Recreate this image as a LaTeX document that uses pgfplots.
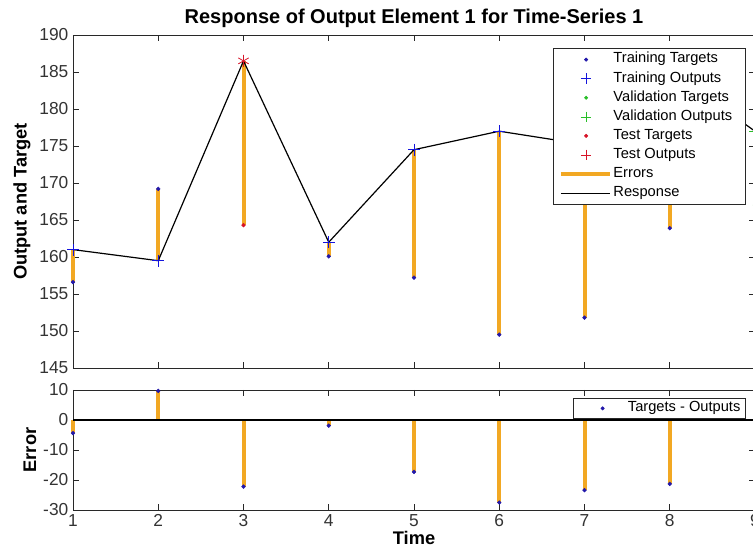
\documentclass[border=0pt]{standalone}
\usepackage{fontspec}
\setmainfont{Liberation Sans}
\usepackage{pgfplots}
\pgfplotsset{compat=1.18}
\definecolor{errc}{RGB}{242,168,35}
\definecolor{tgt}{RGB}{35,25,170}
\definecolor{outb}{RGB}{20,20,220}
\definecolor{valg}{RGB}{40,190,40}
\definecolor{testr}{RGB}{215,20,40}
\definecolor{axc}{RGB}{40,40,40}
\pgfplotsset{
  mline/.style={legend image code/.code={\draw[##1] (0pt,0pt) -- (37pt,0pt);}},
  mmark/.style={legend image code/.code={\path[draw=none,fill=none] (0pt,0pt) -- (37pt,0pt);\draw[##1] plot[only marks] coordinates {(19pt,0pt)};}},
  mybase/.style={scale only axis, width=511.5pt, xmin=1, xmax=9, xtick={1,...,9},
    tick align=inside, major tick length=4.5pt,
    axis line style={axc, line width=0.6pt},
    every tick/.style={axc, line width=0.5pt},
    tick label style={font=\fontsize{13}{15}\selectfont, text=black!80},
    /pgf/number format/assume math mode=true, clip=false,
    label style={font=\bfseries\fontsize{13.7}{16}\selectfont},
    legend cell align=left,
  },
}
\begin{document}
\begin{tikzpicture}
\begin{axis}[mybase, at={(54.75pt,134.25pt)}, anchor=south west, height=249.75pt,
  ymin=145, ymax=190, ytick={145,150,...,190}, xticklabels={},
  title={Response of Output Element 1 for Time-Series 1},
  every axis title shift=0pt,
  title style={font=\bfseries\fontsize{15}{18}\selectfont, at={(axis description cs:0.5,1.051)}, anchor=center, yshift=0pt},
  ylabel={Output and Target},
  ylabel style={at={(axis description cs:-0.0748,0.5)}, anchor=center},
  legend style={at={(axis description cs:0.704,0.961)}, anchor=north west,
    font=\fontsize{11}{13}\selectfont, draw=axc, line width=0.5pt, fill=white,
    inner xsep=4pt, inner ysep=2.5pt, row sep=2.3pt,
    nodes={inner sep=1pt, text height=0.75em, text depth=0.25em}},
]
% errors (target to output)
\addplot[errc, line width=3pt, unbounded coords=jump, forget plot] coordinates {
 (1,156.6) (1,161.0) (1,nan)
 (2,169.2) (2,159.5) (2,nan)
 (3,164.3) (3,186.5) (3,nan)
 (4,160.1) (4,162.0) (4,nan)
 (5,157.2) (5,174.5) (5,nan)
 (6,149.5) (6,177.0) (6,nan)
 (7,151.8) (7,175.2) (7,nan)
 (8,163.9) (8,185.2) (8,nan)
 (9,167.0) (9,177.0)
};
% response
\addplot[black, line width=0.9pt, forget plot] coordinates {
 (1,161.0) (2,159.5) (3,186.5) (4,162.0) (5,174.5) (6,177.0) (7,175.2) (8,185.2) (9,177.0)
};
% training targets and outputs
\addplot[only marks, mark=*, mark size=1.4pt, tgt, forget plot] coordinates {
 (1,156.6) (2,169.2) (4,160.1) (5,157.2) (6,149.5) (7,151.8) (8,163.9)
};
\addplot[only marks, mark=+, mark size=4.5pt, outb, line width=0.6pt, forget plot] coordinates {
 (1,161.0) (2,159.5) (4,162.0) (5,174.5) (6,177.0) (7,175.2) (8,185.2)
};
% validation
\addplot[only marks, mark=*, mark size=1.4pt, valg, forget plot] coordinates {(9,167.0)};
\addplot[only marks, mark=+, mark size=4.5pt, valg, line width=0.6pt, forget plot] coordinates {(9,177.0)};
% test
\addplot[only marks, mark=*, mark size=1.4pt, testr, forget plot] coordinates {(3,164.3)};
\addplot[only marks, mark=asterisk, mark size=4.5pt, testr, line width=0.6pt, forget plot] coordinates {(3,186.5)};
% legend
\addlegendimage{only marks, mark=*, mark size=1.2pt, tgt, mmark}
\addlegendentry{Training Targets}
\addlegendimage{only marks, mark=+, mark size=4pt, outb, line width=0.5pt, mmark}
\addlegendentry{Training Outputs}
\addlegendimage{only marks, mark=*, mark size=1.2pt, valg, mmark}
\addlegendentry{Validation Targets}
\addlegendimage{only marks, mark=+, mark size=4pt, valg, line width=0.5pt, mmark}
\addlegendentry{Validation Outputs\hspace*{5pt}}
\addlegendimage{only marks, mark=*, mark size=1.2pt, testr, mmark}
\addlegendentry{Test Targets}
\addlegendimage{only marks, mark=+, mark size=4pt, testr, line width=0.5pt, mmark}
\addlegendentry{Test Outputs}
\addlegendimage{mline, errc, line width=3pt}
\addlegendentry{Errors}
\addlegendimage{mline, black, line width=0.8pt}
\addlegendentry{Response}
\end{axis}
\begin{axis}[mybase, at={(54.75pt,27.75pt)}, anchor=south west, height=90pt,
  ymin=-30, ymax=10, ytick={-30,-20,...,10},
  xlabel={Time},
  xlabel style={at={(axis description cs:0.5,-0.235)}, anchor=center},
  ylabel={Error},
  ylabel style={at={(axis description cs:-0.063,0.5)}, anchor=center},
  legend style={at={(axis description cs:0.733,0.933)}, anchor=north west,
    font=\fontsize{11}{13}\selectfont, draw=axc, line width=0.5pt, fill=white,
    inner xsep=3pt, inner ysep=1.5pt,
    nodes={inner sep=1pt, text height=0.75em, text depth=0.25em}},
]
\addplot[errc, line width=3pt, ycomb, forget plot] coordinates {
 (1,-4.4) (2,9.7) (3,-22.2) (4,-1.9) (5,-17.3) (6,-27.5) (7,-23.4) (8,-21.3) (9,-10.0)
};
\addplot[black, line width=0.8pt, forget plot] coordinates {(1,0) (9,0)};
\addplot[only marks, mark=*, mark size=1.4pt, tgt, forget plot] coordinates {
 (1,-4.4) (2,9.7) (3,-22.2) (4,-1.9) (5,-17.3) (6,-27.5) (7,-23.4) (8,-21.3) (9,-10.0)
};
\addlegendimage{only marks, mark=*, mark size=1.2pt, tgt, mmark}
\addlegendentry{Targets - Outputs}
\end{axis}
\pgfresetboundingbox
\path[use as bounding box] (0pt,0pt) rectangle (564.75pt,410.25pt);
\end{tikzpicture}
\end{document}
